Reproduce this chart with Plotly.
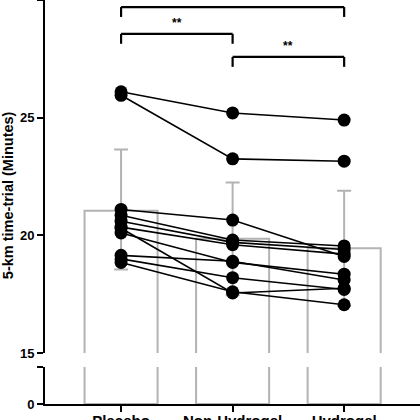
import plotly.graph_objects as go

# groups and per-subject 5-km times (minutes)
groups = ["Placebo", "Non-Hydrogel", "Hydrogel"]
placebo = [26.1, 25.95, 21.1, 20.85, 20.6, 20.35, 20.1, 20.3, 19.15, 19.0, 18.85]
non_hydrogel = [25.2, 23.25, 20.65, 19.8, 19.7, 19.6, 18.85, 17.55, 18.9, 18.2, 17.6]
hydrogel = [24.9, 23.15, 19.1, 19.55, 19.4, 19.2, 18.35, 17.75, 18.1, 17.7, 17.05]

# group mean and SD
means = [21.05, 19.85, 19.45]
sd_up = [2.6, 2.4, 2.45]
sd_down = [2.5, 2.4, 2.45]

# significance brackets: (from group idx, to group idx, level, label)
brackets = [(0, 2, 29.7, ""), (0, 1, 28.56, "**"), (1, 2, 27.58, "**")]
tip_drop = 0.42

FONT = "Liberation Sans, Arial, sans-serif"
GREY = "#b3b3b3"
BAR_W = 0.655

fig = go.Figure()

# bars on upper (15-30) and lower (0-) segments of the broken axis
fig.add_trace(go.Bar(
    x=groups, y=means, width=BAR_W, yaxis="y",
    marker=dict(color="white", line=dict(color=GREY, width=2)),
    error_y=dict(type="data", symmetric=False, array=sd_up, arrayminus=sd_down,
                 color=GREY, thickness=2, width=7),
    showlegend=False, hoverinfo="skip"))
fig.add_trace(go.Bar(
    x=groups, y=means, width=BAR_W, yaxis="y2",
    marker=dict(color="white", line=dict(color=GREY, width=2)),
    showlegend=False, hoverinfo="skip"))

# individual subject lines
for a, b, c in zip(placebo, non_hydrogel, hydrogel):
    fig.add_trace(go.Scatter(
        x=groups, y=[a, b, c], mode="lines+markers", yaxis="y",
        line=dict(color="black", width=1.6),
        marker=dict(color="black", size=13),
        showlegend=False, cliponaxis=False))

shapes = []
annotations = []
for i, j, lvl, lab in brackets:
    for x0, y0, x1, y1 in [(i, lvl - tip_drop, i, lvl), (i, lvl, j, lvl), (j, lvl, j, lvl - tip_drop)]:
        shapes.append(dict(type="line", xref="x", yref="y", x0=x0, y0=y0, x1=x1, y1=y1,
                           line=dict(color="black", width=2.2)))
    if lab:
        annotations.append(dict(x=(i + j) / 2, y=lvl + 0.45, xref="x", yref="y", text=lab,
                                showarrow=False, font=dict(family=FONT, size=12, color="black", weight="bold")))

annotations.append(dict(text="5-km time-trial (Minutes)", xref="paper", yref="paper",
                        x=0, y=0.517, xshift=-37, textangle=-90, showarrow=False,
                        xanchor="center", yanchor="middle",
                        font=dict(family=FONT, size=14.5, color="black", weight="bold")))

tickfont = dict(family=FONT, size=13, color="black", weight="bold")
fig.update_layout(
    width=420, height=420,
    margin=dict(l=45, r=0, t=0, b=16),
    paper_bgcolor="white", plot_bgcolor="white",
    barmode="overlay",
    xaxis=dict(range=[-0.682, 2.68], anchor="y2", showline=True, linecolor="black", linewidth=2,
               ticks="outside", ticklen=6, tickwidth=2, tickcolor="black", automargin=False,
               ticklabelstandoff=-4,
               tickfont=dict(family=FONT, size=15, color="black", weight="bold"),
               showgrid=False, zeroline=False),
    yaxis=dict(domain=[0.1262, 1], range=[15, 30], anchor="x", showline=True, linecolor="black",
               linewidth=2, ticks="outside", ticklen=6, tickwidth=2, tickcolor="black",
               automargin=False, tickvals=[15, 20, 25, 30], tickfont=tickfont,
               showgrid=False, zeroline=False),
    yaxis2=dict(domain=[0, 0.0916], range=[0, 1], anchor="x", showline=True, linecolor="black",
                linewidth=2, ticks="outside", ticklen=6, tickwidth=2, tickcolor="black",
                automargin=False, tickvals=[0, 1], ticktext=["0", ""], tickfont=tickfont,
                showgrid=False, zeroline=False),
    shapes=shapes,
    annotations=annotations,
)

# page has a default 8px body margin; drop it so the figure sits at the window corner
fig.write_html("out.html", config={"displayModeBar": False},
               post_script="document.body.style.margin='0';document.body.style.overflow='hidden';")
